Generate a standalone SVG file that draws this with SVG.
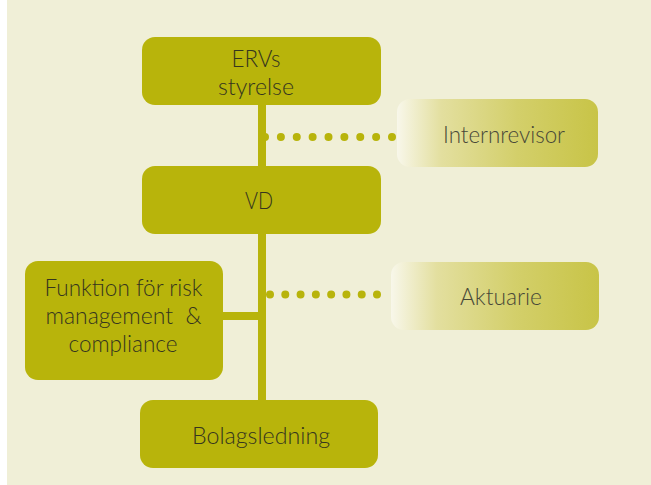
<svg xmlns="http://www.w3.org/2000/svg" width="651" height="485" viewBox="0 0 651 485">
<defs>
<linearGradient id="fade" x1="0" y1="0" x2="1" y2="0">
<stop offset="0" stop-color="#f8f7ea"/>
<stop offset="0.22" stop-color="#e3df9f"/>
<stop offset="0.6" stop-color="#d3cf6a"/>
<stop offset="1" stop-color="#c8c447"/>
</linearGradient>
<style>
.box{fill:#b8b40b;}
.soft{fill:url(#fade);}
.t{font-family:"Lato","Roboto","Liberation Sans",sans-serif;font-weight:300;font-size:23px;fill:#35351f;text-anchor:middle;}
.ts{fill:#484838;}
.solid{stroke:#b8b40b;stroke-width:8;fill:none;}
.dots{stroke:#b8b40b;stroke-width:8;stroke-linecap:round;fill:none;}
</style>
</defs>
<rect x="7" y="0" width="644" height="485" fill="#f0efd7"/>
<g id="connectors">
<line class="solid" x1="262" y1="100" x2="262" y2="405"/>
<line class="solid" x1="218" y1="316" x2="262" y2="316"/>
<line class="dots" x1="265" y1="137" x2="392.6" y2="137" stroke-dasharray="0 15.875"/>
<line class="dots" x1="270" y1="294.5" x2="377.6" y2="294.5" stroke-dasharray="0 15.286"/>
</g>
<g id="ervs-styrelse">
<rect class="box" x="142" y="37" width="239" height="68" rx="13"/>
<text class="t" x="256" y="67" textLength="49" lengthAdjust="spacingAndGlyphs">ERVs</text>
<text class="t" x="256" y="94.5" textLength="76" lengthAdjust="spacingAndGlyphs">styrelse</text>
</g>
<g id="internrevisor">
<rect class="soft" x="397" y="99" width="201" height="68" rx="13"/>
<text class="t ts" x="504" y="142.5" textLength="122" lengthAdjust="spacingAndGlyphs">Internrevisor</text>
</g>
<g id="vd">
<rect class="box" x="142" y="166" width="239" height="68" rx="13"/>
<text class="t" x="259" y="208.5" textLength="28" lengthAdjust="spacingAndGlyphs">VD</text>
</g>
<g id="risk-compliance">
<rect class="box" x="25" y="261" width="198" height="119" rx="13"/>
<text class="t" x="123.5" y="296" textLength="158" lengthAdjust="spacingAndGlyphs">Funktion för risk</text>
<text class="t" x="123.5" y="323.5" textLength="156" lengthAdjust="spacingAndGlyphs" xml:space="preserve">management  &amp;</text>
<text class="t" x="123" y="352" textLength="109" lengthAdjust="spacingAndGlyphs">compliance</text>
</g>
<g id="aktuarie">
<rect class="soft" x="391" y="262" width="208" height="68" rx="13"/>
<text class="t ts" x="501" y="305" textLength="82" lengthAdjust="spacingAndGlyphs">Aktuarie</text>
</g>
<g id="bolagsledning">
<rect class="box" x="140" y="400" width="238" height="68" rx="13"/>
<text class="t" x="261" y="444" textLength="138" lengthAdjust="spacingAndGlyphs">Bolagsledning</text>
</g>
</svg>
